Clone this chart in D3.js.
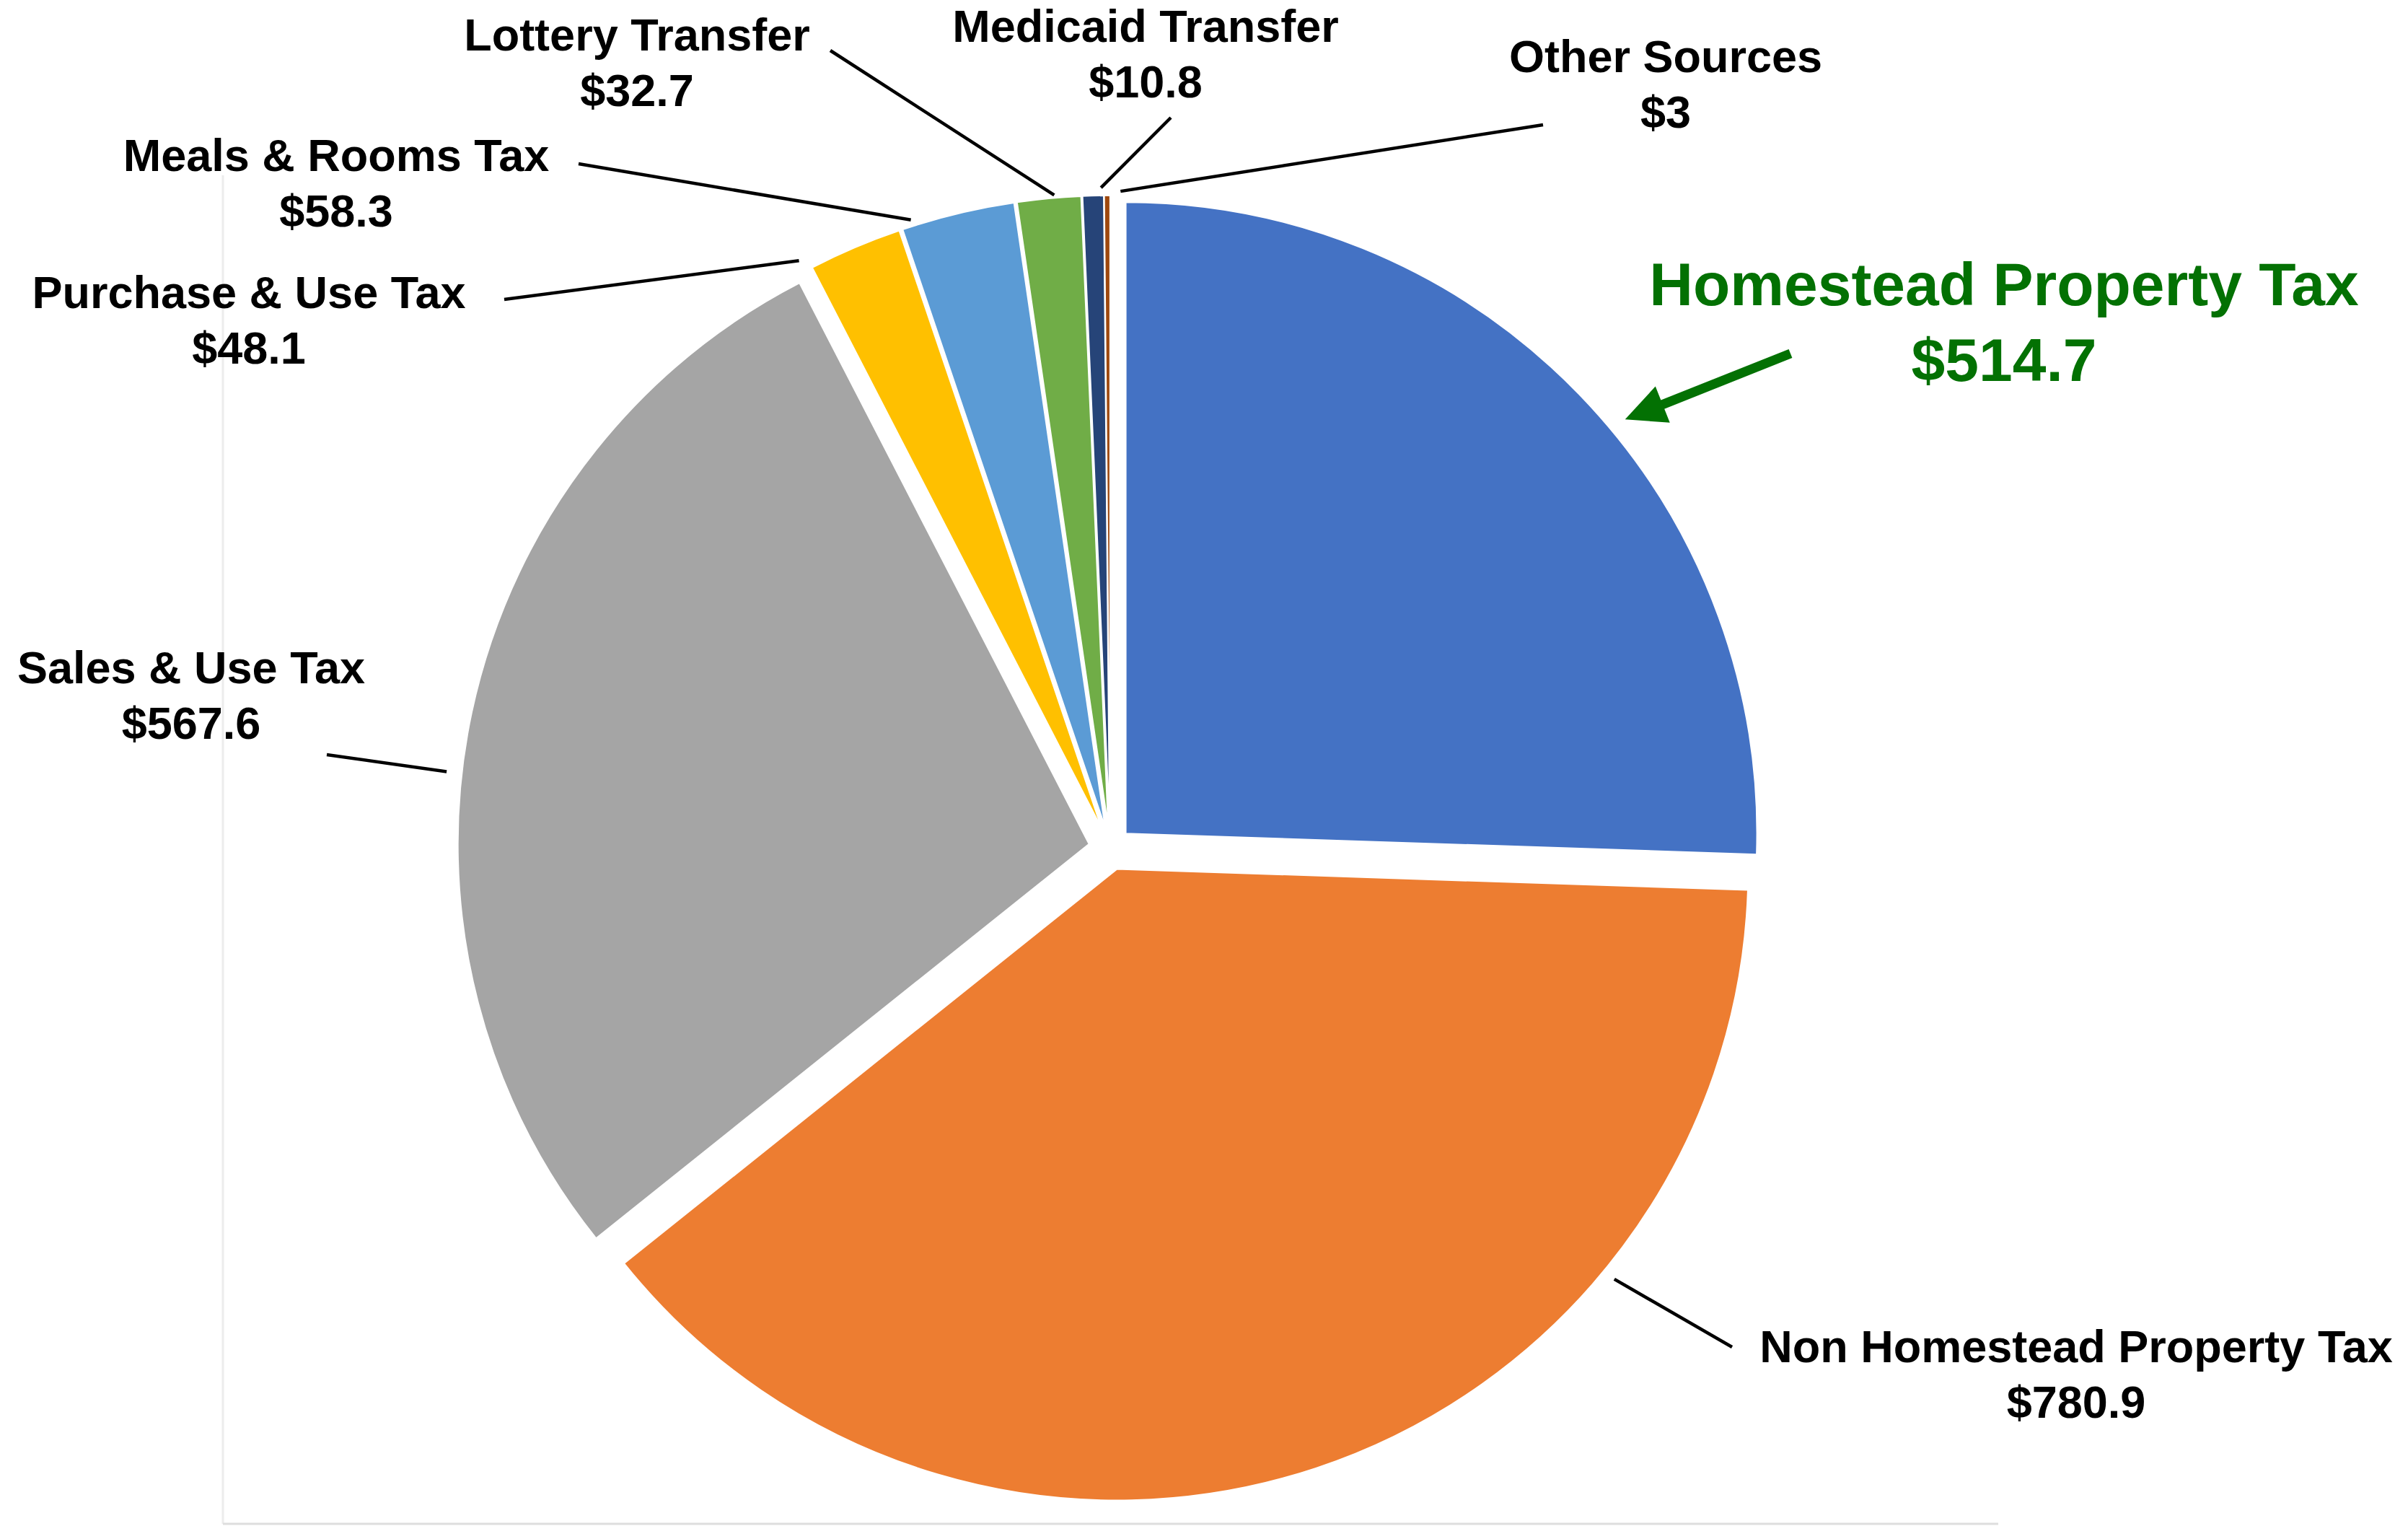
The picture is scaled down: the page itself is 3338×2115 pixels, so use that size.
<!DOCTYPE html>
<html>
<head>
<meta charset="utf-8">
<script src="https://cdn.jsdelivr.net/npm/d3@7"></script>
<style>
  html, body { margin: 0; padding: 0; background: #fff; }
  svg { display: block; }
  text { font-family: "Liberation Sans", Arial, Helvetica, sans-serif; font-weight: bold; }
</style>
</head>
<body>
<svg width="3338" height="2115"></svg>
<script>
// Revenue sources (millions)
const categories = ["Homestead Property Tax", "Non Homestead Property Tax", "Sales & Use Tax",
    "Purchase & Use Tax", "Meals & Rooms Tax", "Lottery Transfer", "Medicaid Transfer", "Other Sources"];
const values = [514.7, 780.9, 567.6, 48.1, 58.3, 32.7, 10.8, 3];
const colors = ["#4472C4", "#ED7D31", "#A5A5A5", "#FFC000", "#5B9BD5", "#70AD47", "#264478", "#9E480E"];

// label placement: text centre x, first baseline y, leader (angle on pie, radius, outer end)
const labelLayout = [
    { x: 2778, y: 423, ang: 50.2, r: 929, ox: 2482, oy: 490, highlight: true },
    { x: 2878, y: 1888, ang: 130.5, r: 919, ox: 2401, oy: 1867 },
    { x: 265, y: 947, ang: 276.6, r: 926, ox: 453, oy: 1046 },
    { x: 345, y: 427, ang: 332.1, r: 922, ox: 699, oy: 415 },
    { x: 466, y: 237, ang: 342.4, r: 914, ox: 802, oy: 227 },
    { x: 883, y: 70, ang: 355.1, r: 909, ox: 1151, oy: 70 },
    { x: 1588, y: 58, ang: 359.2, r: 916, ox: 1623, oy: 163 },
    { x: 2309, y: 100, ang: 0.9, r: 911, ox: 2139, oy: 173 }
];

const cx = 1539, cy = 1176, radius = 875, explode = 30;

const svg = d3.select("svg");

// faint plot frame
svg.append("line").attr("x1", 309).attr("y1", 243).attr("x2", 309).attr("y2", 2112)
    .attr("stroke", "#ececec").attr("stroke-width", 3);
svg.append("line").attr("x1", 309).attr("y1", 2112).attr("x2", 2770).attr("y2", 2112)
    .attr("stroke", "#dedede").attr("stroke-width", 3);

const pie = d3.pie().sort(null).value(d => d)(values);
const arc = d3.arc().innerRadius(0).outerRadius(radius);

const g = svg.append("g").attr("transform", `translate(${cx},${cy})`);

g.selectAll("path")
    .data(pie)
    .join("path")
    .attr("d", arc)
    .attr("fill", (d, i) => colors[i])
    .attr("stroke", "#fff")
    .attr("stroke-width", 2)
    .attr("transform", d => {
        const mid = (d.startAngle + d.endAngle) / 2;
        return `translate(${explode * Math.sin(mid)},${-explode * Math.cos(mid)})`;
    });

function polar(angDeg, r) {
    const a = angDeg * Math.PI / 180;
    return [cx + r * Math.sin(a), cy - r * Math.cos(a)];
}

const green = "#037103";

labelLayout.forEach((L, i) => {
    const [px, py] = polar(L.ang, L.r);
    if (L.highlight) {
        // arrow pointing at the slice
        const dx = px - L.ox, dy = py - L.oy;
        const len = Math.hypot(dx, dy);
        const ux = dx / len, uy = dy / len;
        const headLen = 56, headW = 27;
        const bx = px - ux * headLen, by = py - uy * headLen;
        svg.append("line")
            .attr("x1", L.ox).attr("y1", L.oy).attr("x2", bx + ux * 4).attr("y2", by + uy * 4)
            .attr("stroke", green).attr("stroke-width", 13);
        svg.append("polygon")
            .attr("points", [[px, py], [bx - uy * headW, by + ux * headW], [bx + uy * headW, by - ux * headW]].join(" "))
            .attr("fill", green);
    } else {
        svg.append("line")
            .attr("x1", L.ox).attr("y1", L.oy).attr("x2", px).attr("y2", py)
            .attr("stroke", "#000").attr("stroke-width", 4.5);
    }
    const size = L.highlight ? 84 : 63;
    const gap = L.highlight ? 105 : 77;
    const t = svg.append("text")
        .attr("text-anchor", "middle")
        .attr("font-size", size)
        .attr("fill", L.highlight ? green : "#000");
    t.append("tspan").attr("x", L.x).attr("y", L.y).text(categories[i]);
    t.append("tspan").attr("x", L.x).attr("y", L.y + gap).text("$" + values[i]);
});
</script>
</body>
</html>
